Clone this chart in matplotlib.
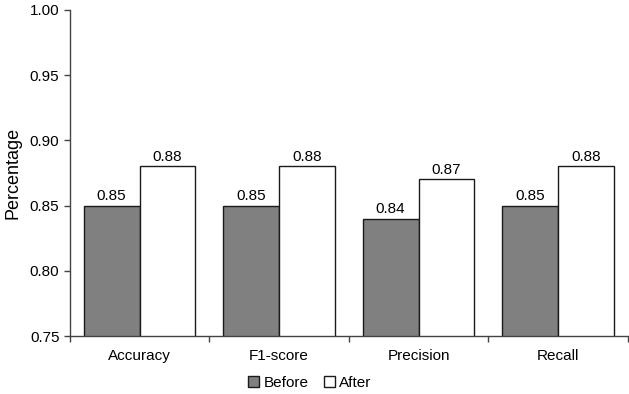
import numpy as np
import matplotlib.pyplot as plt

plt.rcParams['font.family'] = ['Liberation Sans', 'DejaVu Sans']

metrics = ['Accuracy', 'F1-score', 'Precision', 'Recall']
before = [0.85, 0.85, 0.84, 0.85]
after = [0.88, 0.88, 0.87, 0.88]

x = np.arange(len(metrics))
w = 0.4

fig = plt.figure(figsize=(6.29, 3.94), dpi=100)
ax = fig.add_axes([0.111, 0.147, 0.887, 0.828])

b1 = ax.bar(x - w/2, before, w, bottom=0, color='#808080', edgecolor='#1a1a1a', linewidth=1.0, label='Before')
b2 = ax.bar(x + w/2, after, w, bottom=0, color='white', edgecolor='#1a1a1a', linewidth=1.0, label='After')

for bars, vals in ((b1, before), (b2, after)):
    for r, v in zip(bars, vals):
        ax.text(r.get_x() + r.get_width()/2, v + 0.002, '%.2f' % v,
                ha='center', va='bottom', fontsize=11)

ax.set_ylim(0.75, 1.0)
ax.set_xlim(-0.5, 3.5)
ax.set_yticks(np.arange(0.75, 1.001, 0.05))
ax.set_yticklabels(['%.2f' % t for t in np.arange(0.75, 1.001, 0.05)])
ax.tick_params(axis='y', labelsize=11, length=4, color='#444444', width=1)
ax.set_xticks(x)
ax.set_xticklabels(metrics, fontsize=11)
ax.tick_params(axis='x', length=0, pad=9)
ax.set_xticks(np.arange(-0.5, 4, 1), minor=True)
ax.tick_params(axis='x', which='minor', length=4, color='#444444', width=1)
ax.set_ylabel('Percentage', fontsize=13, labelpad=6)

for s in ('top', 'right'):
    ax.spines[s].set_visible(False)
for s in ('left', 'bottom'):
    ax.spines[s].set_color('#444444')
    ax.spines[s].set_linewidth(1)

fig.legend(handles=[b1, b2], loc='center', bbox_to_anchor=(0.493, 0.028), ncol=2, frameon=False,
           fontsize=11, handlelength=0.7, handleheight=0.7, handletextpad=0.3, columnspacing=1.0)

fig.savefig('out.png', dpi=100)
